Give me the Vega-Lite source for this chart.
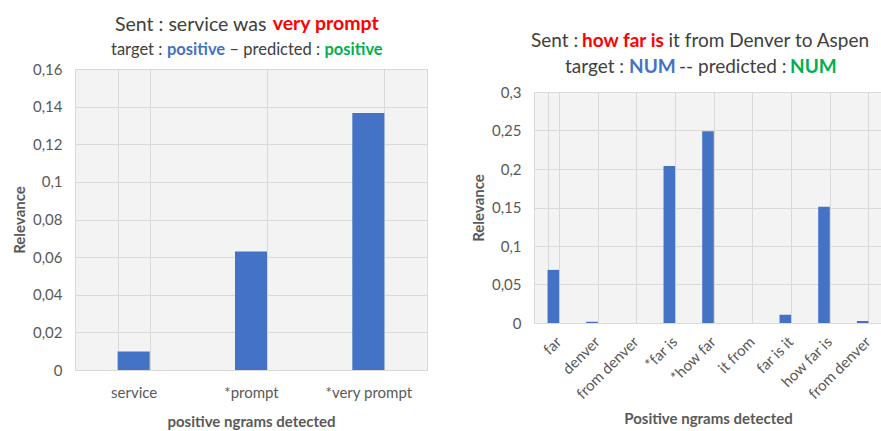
{
  "$schema": "https://vega.github.io/schema/vega-lite/v6.json",
  "background": "white",
  "padding": {"left": 11, "top": 13, "right": 0, "bottom": 0},
  "spacing": 42,
  "config": {
    "font": "Lato",
    "view": {"fill": "#f3f3f3", "stroke": "#d9d9d9", "strokeWidth": 1},
    "axis": {
      "labelFont": "Lato", "labelColor": "#595959", "labelFontSize": 15,
      "titleFont": "Lato", "titleColor": "#595959", "titleFontSize": 15, "titleFontWeight": "bold",
      "domain": false, "ticks": false, "gridColor": "#d9d9d9", "gridWidth": 1
    },
    "title": {"font": "Lato", "color": "#404040", "fontWeight": "normal", "anchor": "start", "frame": "bounds"}
  },
  "hconcat": [
    {
      "title": {"text": "very prompt", "color": "#ff0000", "fontWeight": "bold", "fontSize": 19.5, "dx": 260.7, "dy": 19.5, "offset": 0},
      "vconcat": [{
        "title": {"text": "Sent : service was", "fontSize": 19.5, "dx": 103, "offset": 7},
        "vconcat": [{
          "title": {"text": "positive", "color": "#00b050", "fontWeight": "bold", "fontSize": 16.5, "dx": 312.5, "dy": 16.5, "offset": 0},
          "vconcat": [{
            "title": {"text": "– predicted :", "fontSize": 16.5, "dx": 217.5, "dy": 16.5, "offset": 0},
            "vconcat": [{
              "title": {"text": "positive", "color": "#4472c4", "fontWeight": "bold", "fontSize": 16.5, "dx": 155, "dy": 16.5, "offset": 0},
              "vconcat": [{
                "title": {"text": "target :", "fontSize": 16.5, "dx": 99, "offset": 3},
                "vconcat": [{
                  "width": 352, "height": 301,
                  "data": {"values": [
                    {"ngram": "service", "relevance": 0.0099},
                    {"ngram": "*prompt", "relevance": 0.063},
                    {"ngram": "*very prompt", "relevance": 0.1366}
                  ]},
                  "mark": {"type": "bar", "color": "#4472c4"},
                  "encoding": {
                    "x": {"field": "ngram", "type": "nominal", "sort": null, "scale": {"paddingInner": 0.727, "paddingOuter": 0.3635},
                      "axis": {"title": "positive ngrams detected", "labelAngle": 0, "grid": true, "tickBand": "extent", "labelPadding": 15, "titlePadding": 14}},
                    "y": {"field": "relevance", "type": "quantitative", "scale": {"domain": [0, 0.16]},
                      "axis": {"title": "Relevance", "values": [0, 0.02, 0.04, 0.06, 0.08, 0.1, 0.12, 0.14, 0.16], "labelExpr": "replace(format(datum.value, '.2~f'), '.', ',')", "labelPadding": 13, "titlePadding": 5}}
                  }
                }]
              }]
            }]
          }]
        }]
      }]
    },
    {
      "title": {"text": "it from Denver to Aspen", "fontSize": 19, "dx": 197.5, "dy": 19, "offset": 0},
      "vconcat": [{
        "title": {"text": "how far is", "color": "#ff0000", "fontWeight": "bold", "fontSize": 19, "dx": 111, "dy": 19, "offset": 0},
        "vconcat": [{
          "title": {"text": "Sent :", "fontSize": 19, "dx": 60, "offset": 7},
          "vconcat": [{
            "title": {"text": "NUM", "color": "#00b050", "fontWeight": "bold", "fontSize": 19, "dx": 319, "dy": 19, "offset": 0},
            "vconcat": [{
              "title": {"text": "-- predicted :", "fontSize": 19, "dx": 208, "dy": 19, "offset": 0},
              "vconcat": [{
                "title": {"text": "NUM", "color": "#4472c4", "fontWeight": "bold", "fontSize": 19, "dx": 158, "dy": 19, "offset": 0},
                "vconcat": [{
                  "title": {"text": "target :", "fontSize": 19, "dx": 94, "dy": 8.5, "offset": 0},
                  "spacing": 0,
                  "vconcat": [
                    {
                      "width": 348, "height": 14,
                      "data": {"values": [{"a": 1}]},
                      "mark": {"type": "point", "opacity": 0},
                      "encoding": {},
                      "view": {"fill": "transparent", "stroke": "transparent"}
                    },
                    {
                      "width": 348, "height": 231,
                      "data": {"values": [
                        {"ngram": "far", "relevance": 0.069},
                        {"ngram": "denver", "relevance": 0.0015},
                        {"ngram": "from denver", "relevance": 0},
                        {"ngram": "*far is", "relevance": 0.204},
                        {"ngram": "*how far", "relevance": 0.249},
                        {"ngram": "it from", "relevance": 0},
                        {"ngram": "far is it", "relevance": 0.0108},
                        {"ngram": "how far is", "relevance": 0.151},
                        {"ngram": "from denver ", "relevance": 0.0026}
                      ]},
                      "mark": {"type": "bar", "color": "#4472c4"},
                      "encoding": {
                        "x": {"field": "ngram", "type": "nominal", "sort": null, "scale": {"paddingInner": 0.7, "paddingOuter": 0.35},
                          "axis": {"title": "Positive ngrams detected", "labelAngle": -45, "grid": true, "tickBand": "extent", "labelPadding": 11, "titlePadding": 10, "labelExpr": "isString(datum.value) ? trim(datum.value) : ''"}},
                        "y": {"field": "relevance", "type": "quantitative", "scale": {"domain": [0, 0.3]},
                          "axis": {"title": "Relevance", "values": [0, 0.05, 0.1, 0.15, 0.2, 0.25, 0.3], "labelExpr": "replace(format(datum.value, '.2~f'), '.', ',')", "labelPadding": 13, "titlePadding": 5}}
                      }
                    }
                  ]
                }]
              }]
            }]
          }]
        }]
      }]
    }
  ]
}
